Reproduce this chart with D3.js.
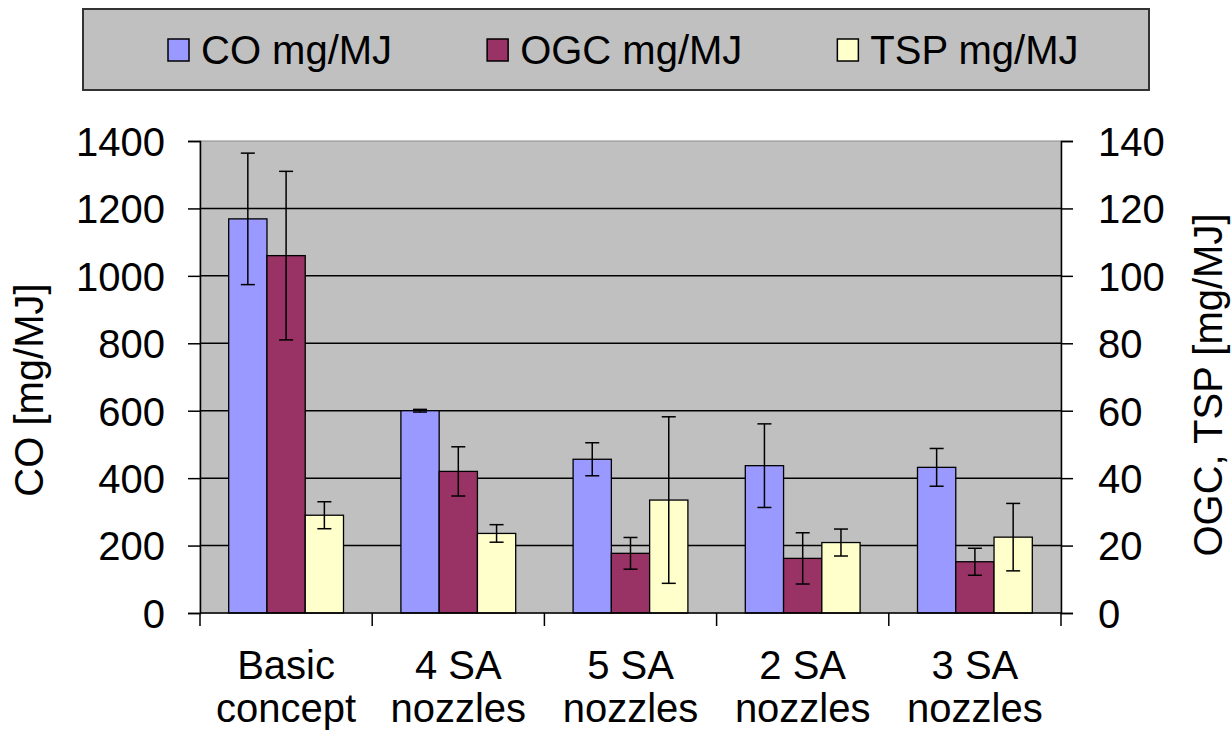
<!DOCTYPE html>
<html>
<head>
<meta charset="utf-8">
<script src="https://cdn.jsdelivr.net/npm/d3@7"></script>
<style>
  body { margin: 0; background: #fff; }
  text { font-family: "Liberation Sans", Arial, sans-serif; font-size: 40px; fill: #000; }
</style>
</head>
<body>
<svg id="chart"></svg>
<script>
const categories = [["Basic", "concept"], ["4 SA", "nozzles"], ["5 SA", "nozzles"], ["2 SA", "nozzles"], ["3 SA", "nozzles"]];
const seriesNames = ["CO mg/MJ", "OGC mg/MJ", "TSP mg/MJ"];
const seriesColors = ["#9999ff", "#993366", "#ffffcc"];
// CO on the left axis, OGC and TSP on the right axis
const coValues = [1169, 600, 456, 437, 432];
const coErrors = [195, 4, 49, 124, 56];
const ogcValues = [106, 42, 17.7, 16.2, 15.2];
const ogcErrors = [25, 7.3, 4.7, 7.6, 4];
const tspValues = [29, 23.6, 33.5, 20.9, 22.5];
const tspErrors = [4, 2.6, 24.7, 4, 10];
const leftTicks = [0, 200, 400, 600, 800, 1000, 1200, 1400];
const rightTicks = [0, 20, 40, 60, 80, 100, 120, 140];

const width = 1232;
const height = 735;
const plot = { left: 200, right: 1061, top: 141, bottom: 613 };

const svg = d3.select("#chart").attr("width", width).attr("height", height);

const x = d3.scaleBand()
  .domain(d3.range(categories.length))
  .range([plot.left, plot.right])
  .padding(0);
const xs = d3.scaleBand()
  .domain(d3.range(seriesNames.length))
  .range([0, x.bandwidth()])
  .paddingInner(0)
  .paddingOuter(0.75);
const yLeft = d3.scaleLinear().domain([0, 1400]).range([plot.bottom, plot.top]);
const yRight = d3.scaleLinear().domain([0, 140]).range([plot.bottom, plot.top]);

// plot background
svg.append("rect")
  .attr("x", plot.left).attr("y", plot.top)
  .attr("width", plot.right - plot.left).attr("height", plot.bottom - plot.top)
  .attr("fill", "#c0c0c0")
  .attr("stroke", "#8a8a8a").attr("stroke-width", 1);

// gridlines
svg.append("g")
  .selectAll("line")
  .data(leftTicks.filter((d) => d > 0 && d < 1400))
  .join("line")
  .attr("x1", plot.left).attr("x2", plot.right)
  .attr("y1", (d) => yLeft(d)).attr("y2", (d) => yLeft(d))
  .attr("stroke", "#000").attr("stroke-width", 1.5);

const series = [
  { values: coValues, errors: coErrors, y: yLeft },
  { values: ogcValues, errors: ogcErrors, y: yRight },
  { values: tspValues, errors: tspErrors, y: yRight },
];

const bars = [];
series.forEach((s, si) => {
  s.values.forEach((v, ci) => {
    bars.push({ si, ci, v, e: s.errors[ci], y: s.y });
  });
});

const g = svg.append("g");
g.selectAll("rect")
  .data(bars)
  .join("rect")
  .attr("x", (d) => x(d.ci) + xs(d.si))
  .attr("width", xs.bandwidth())
  .attr("y", (d) => d.y(d.v))
  .attr("height", (d) => plot.bottom - d.y(d.v))
  .attr("fill", (d) => seriesColors[d.si])
  .attr("stroke", "#000").attr("stroke-width", 1.3);

// error bars
const capW = 7;
const eg = svg.append("g").attr("stroke", "#000").attr("stroke-width", 1.5);
bars.forEach((d) => {
  const cx = x(d.ci) + xs(d.si) + xs.bandwidth() / 2;
  const y1 = d.y(d.v + d.e);
  const y2 = d.y(d.v - d.e);
  eg.append("line").attr("x1", cx).attr("x2", cx).attr("y1", y1).attr("y2", y2);
  eg.append("line").attr("x1", cx - capW).attr("x2", cx + capW).attr("y1", y1).attr("y2", y1);
  eg.append("line").attr("x1", cx - capW).attr("x2", cx + capW).attr("y1", y2).attr("y2", y2);
});

// left axis
const leftAxis = svg.append("g")
  .attr("transform", `translate(${plot.left},0)`)
  .call(d3.axisLeft(yLeft).tickValues(leftTicks).tickFormat(d3.format("d")).tickSize(12).tickPadding(23));
leftAxis.select(".domain").attr("stroke-width", 1.5);
leftAxis.selectAll(".tick line").attr("stroke-width", 1.5);
leftAxis.selectAll("text").style("font-size", "40px").attr("dy", "0.36em");

// right axis
const rightAxis = svg.append("g")
  .attr("transform", `translate(${plot.right},0)`)
  .call(d3.axisRight(yRight).tickValues(rightTicks).tickFormat(d3.format("d")).tickSize(12).tickPadding(25));
rightAxis.select(".domain").attr("stroke-width", 1.5);
rightAxis.selectAll(".tick line").attr("stroke-width", 1.5);
rightAxis.selectAll("text").style("font-size", "40px").attr("dy", "0.36em");

// bottom axis
const bottom = svg.append("g").attr("stroke", "#000").attr("stroke-width", 1.5);
bottom.append("line")
  .attr("x1", plot.left).attr("x2", plot.right)
  .attr("y1", plot.bottom).attr("y2", plot.bottom);
bottom.selectAll(".cat-tick")
  .data(d3.range(categories.length + 1))
  .join("line")
  .attr("class", "cat-tick")
  .attr("x1", (d) => plot.left + d * x.step()).attr("x2", (d) => plot.left + d * x.step())
  .attr("y1", plot.bottom).attr("y2", plot.bottom + 13);

const labels = svg.append("g")
  .selectAll("text")
  .data(categories)
  .join("text")
  .attr("text-anchor", "middle")
  .attr("x", (d, i) => x(i) + x.bandwidth() / 2)
  .attr("y", 679);
labels.selectAll("tspan")
  .data((d) => d)
  .join("tspan")
  .attr("x", function () { return d3.select(this.parentNode).attr("x"); })
  .attr("dy", (d, i) => (i === 0 ? 0 : 43))
  .text((d) => d);

// axis titles
svg.append("text")
  .attr("transform", "translate(43,390) rotate(-90)")
  .attr("text-anchor", "middle")
  .text("CO [mg/MJ]");
svg.append("text")
  .attr("transform", "translate(1222,385) rotate(-90)")
  .attr("text-anchor", "middle")
  .text("OGC, TSP [mg/MJ]");

// legend
const legend = svg.append("g");
legend.append("rect")
  .attr("x", 83).attr("y", 9)
  .attr("width", 1066).attr("height", 81)
  .attr("fill", "#c0c0c0")
  .attr("stroke", "#333").attr("stroke-width", 2);

const items = legend.selectAll("g.item")
  .data(seriesNames)
  .join("g")
  .attr("class", "item");
items.append("rect")
  .attr("width", 21).attr("height", 22)
  .attr("y", 39)
  .attr("fill", (d, i) => seriesColors[i])
  .attr("stroke", "#000").attr("stroke-width", 1.5);
items.append("text")
  .attr("x", 33)
  .attr("y", 64)
  .text((d) => d);

// place legend items one after the other
let lx = 168;
items.each(function () {
  const w = d3.select(this).select("text").node().getComputedTextLength();
  d3.select(this).attr("transform", `translate(${lx},0)`);
  lx += 33 + w + 95;
});
</script>
</body>
</html>
